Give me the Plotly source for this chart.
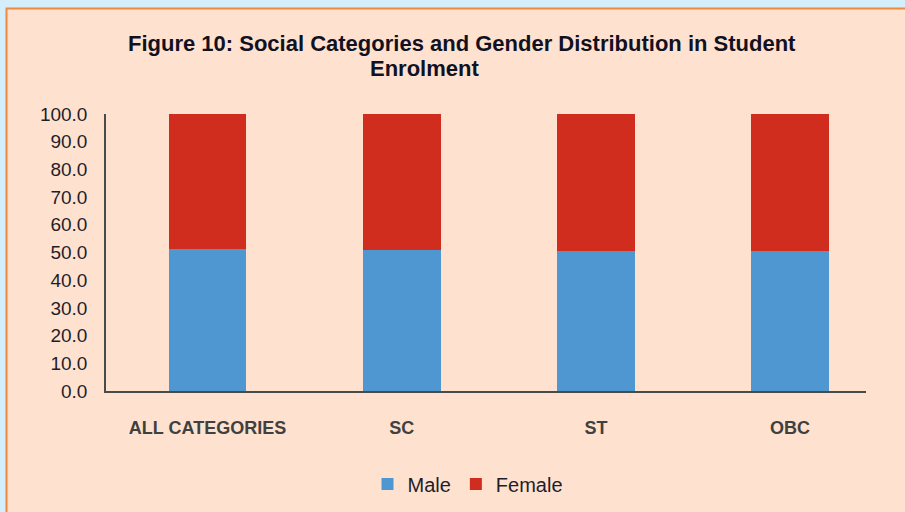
import plotly.graph_objects as go

categories = ["ALL CATEGORIES", "SC", "ST", "OBC"]
male = [51.3, 50.8, 50.7, 50.7]
female = [48.7, 49.2, 49.3, 49.3]
y_ticks = [0, 10, 20, 30, 40, 50, 60, 70, 80, 90, 100]

W, H = 905, 512
L, R, T, B = 106, 39, 114, 121
pw, ph = W - L - R, H - T - B

def px(x):
    return (x - L) / pw

def py(y):
    return (H - B - y) / ph

idx = list(range(len(categories)))
BLUE = "#4F97D1"
RED = "#D02D1E"

fig = go.Figure()
fig.add_trace(go.Bar(x=idx, y=male, name="Male", marker=dict(color=BLUE, line=dict(width=0)), width=0.4))
fig.add_trace(go.Bar(x=idx, y=female, name="Female", marker=dict(color=RED, line=dict(width=0)), width=0.4))

unit = 194.2
x0 = (L - 207.5) / unit
x1 = (W - R - 207.5) / unit

fig.update_layout(
    width=W, height=H,
    margin=dict(l=L, r=R, t=T, b=B, autoexpand=False),
    barmode="stack",
    paper_bgcolor="#D4EEFB",
    plot_bgcolor="rgba(0,0,0,0)",
    font=dict(family="Liberation Sans, Arial, sans-serif", color="#1E1E2A"),
    showlegend=True,
    legend=dict(orientation="h", x=px(468), xanchor="center", y=py(484), yanchor="middle",
                font=dict(size=20, color="#1E1E2A"), bgcolor="rgba(0,0,0,0)",
                itemwidth=30, traceorder="normal"),
    xaxis=dict(range=[x0, x1], tickvals=idx, ticktext=categories, showgrid=False, zeroline=False,
               showline=True, linecolor="#4A4A4A", linewidth=1.5, ticks="",
               tickfont=dict(size=18, color="#404040", family="Liberation Sans, Arial, sans-serif", weight="bold"),
               ticklabelstandoff=20),
    yaxis=dict(range=[0, 100], tickvals=y_ticks, ticktext=[f"{v:.1f}" for v in y_ticks],
               showgrid=False, zeroline=False, showline=True, linecolor="#4A4A4A", linewidth=1.5,
               ticks="", tickfont=dict(size=19, color="#1E1E2A"), ticklabelstandoff=13),
    shapes=[
        dict(type="rect", xref="paper", yref="paper", x0=px(6.5), x1=px(W + 20), y0=py(H + 20), y1=py(8.5),
             fillcolor="#FEE2CF", line=dict(color="#F0883E", width=2), layer="below"),
    ],
    annotations=[
        dict(text="<b>Figure 10: Social Categories and Gender Distribution in Student</b>", xref="paper", yref="paper",
             x=px(462), y=py(44), xanchor="center", yanchor="middle", showarrow=False,
             font=dict(size=22, color="#111122")),
        dict(text="<b>Enrolment</b>", xref="paper", yref="paper",
             x=px(424), y=py(69), xanchor="center", yanchor="middle", showarrow=False,
             font=dict(size=22, color="#111122")),
    ],
)

fig.write_html("out.html", config={"displayModeBar": False},
               post_script="document.body.style.margin='0';document.body.style.background='#D4EEFB';")
